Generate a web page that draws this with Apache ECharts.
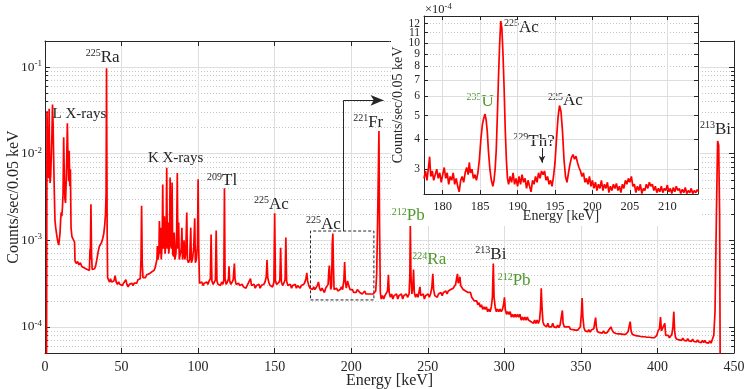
<!DOCTYPE html>
<html>
<head>
<meta charset="utf-8">
<script src="https://cdn.jsdelivr.net/npm/echarts@6/dist/echarts.min.js"></script>
<style>
html, body { margin: 0; padding: 0; background: #fff; }
#chart { width: 748px; height: 389px; }
</style>
</head>
<body>
<div id="chart"></div>
<script>
// spectrum, [energy keV, counts/sec/0.05 keV]
var lowPts = [
  [1.0, 3e-5], [1.3, 0.031], [1.7, 0.011], [2.0, 0.0065], [2.4, 0.0052], [2.7, 0.033],
  [3.0, 0.0085], [3.3, 0.0046], [3.7, 0.0055], [4.1, 0.009], [4.5, 0.016], [4.9, 0.037],
  [5.3, 0.022], [5.7, 0.008], [6.1, 0.0035], [6.5, 0.0017], [7.0, 0.0014], [7.5, 0.0012],
  [8.0, 0.00105], [8.5, 0.00095], [9.0, 0.00088], [9.4, 0.00084], [9.8, 0.0012], [10.2, 0.0017],
  [10.6, 0.0021], [11.0, 0.0019], [11.4, 0.0024], [11.8, 0.0035], [12.2, 0.0155], [12.6, 0.0055],
  [13.0, 0.003], [13.4, 0.0027], [13.8, 0.0045], [14.2, 0.009], [14.6, 0.0224], [15.0, 0.009],
  [15.4, 0.0048], [15.8, 0.0108], [16.2, 0.0042], [16.6, 0.0066], [17.0, 0.0014], [17.6, 0.0011],
  [18.2, 0.00115], [18.8, 0.00105], [19.3, 0.00095], [19.6, 0.00058], [20.4, 0.00054], [21.3, 0.00057],
  [22.2, 0.00052], [23.1, 0.00055], [24.0, 0.0005], [24.9, 0.00052], [25.8, 0.00048], [26.7, 0.0005],
  [27.6, 0.00046], [28.4, 0.00048], [29.0, 0.00045], [29.4, 0.0008], [29.6, 0.0006], [30.0, 0.0026],
  [30.4, 0.0007], [30.8, 0.00046], [31.6, 0.00048], [32.4, 0.00047], [33.2, 0.00052], [34.0, 0.00062],
  [34.8, 0.00075], [35.5, 0.00085], [36.3, 0.0009], [37.0, 0.00095], [37.7, 0.00105], [38.4, 0.0012],
  [39.0, 0.0015], [39.5, 0.002], [39.9, 0.0035], [40.2, 0.097], [40.6, 0.0012], [40.9, 0.00037]
];
var kPts = [
  [41.5, 0.00035], [42.2, 0.00033], [42.8, 0.00036], [43.5, 0.00033], [44.2, 0.00032], [45.0, 0.00034],
  [45.8, 0.00039], [46.5, 0.00033], [47.3, 0.00031], [48.1, 0.00033], [48.9, 0.00031], [49.7, 0.00032],
  [50.5, 0.0003], [51.3, 0.00032], [52.1, 0.00031], [52.8, 0.00035], [53.5, 0.00031], [54.3, 0.00029],
  [55.1, 0.00031], [55.9, 0.0003], [56.7, 0.00032], [57.5, 0.0003], [58.3, 0.00032], [59.1, 0.00033],
  [59.9, 0.00032], [60.7, 0.00035], [61.5, 0.00034], [62.2, 0.00036], [62.7, 0.0006], [63.1, 0.0025],
  [63.5, 0.00055], [64.0, 0.00037], [64.8, 0.00039], [65.6, 0.00037], [66.4, 0.0004], [67.2, 0.00038],
  [68.0, 0.00041], [68.8, 0.0004], [69.6, 0.00043], [70.4, 0.00042], [71.2, 0.00045], [71.9, 0.00048],
  [72.6, 0.0005], [73.1, 0.0006], [73.4, 0.00086], [73.8, 0.0006], [74.4, 0.0007], [74.7, 0.00167],
  [75.1, 0.0007], [75.5, 0.0014], [75.9, 0.0006], [76.5, 0.0009], [76.9, 0.0044], [77.3, 0.0008],
  [77.7, 0.0011], [78.0, 0.0019], [78.4, 0.0007], [79.1, 0.001], [79.5, 0.0069], [79.9, 0.0008],
  [80.4, 0.0016], [80.8, 0.0007], [81.3, 0.0009], [81.7, 0.0053], [82.1, 0.0009], [82.6, 0.0008],
  [83.0, 0.00465], [83.4, 0.0007], [84.0, 0.00065], [84.4, 0.00123], [84.8, 0.0006], [85.5, 0.0007],
  [86.0, 0.0012], [86.4, 0.006], [86.8, 0.0008], [87.3, 0.0016], [87.7, 0.0006], [88.4, 0.0006],
  [89.0, 0.0008], [89.4, 0.0014], [89.8, 0.0006], [90.4, 0.0007], [90.8, 0.001], [91.3, 0.0006],
  [91.9, 0.0007], [92.6, 0.0021], [93.0, 0.0006], [93.7, 0.00055], [94.5, 0.0006], [95.2, 0.0014],
  [95.6, 0.00055], [96.3, 0.0006], [97.1, 0.0008], [97.8, 0.0018], [98.2, 0.00055], [98.9, 0.0006],
  [99.6, 0.0009], [100.0, 0.00506], [100.4, 0.0008], [100.9, 0.00032]
];
var midPts = [
  [101.6, 0.00031], [102.4, 0.00033], [103.2, 0.0003], [104.0, 0.00032], [104.8, 0.00031], [105.6, 0.00033],
  [106.4, 0.00031], [107.2, 0.00034], [108.0, 0.00036], [108.5, 0.00117], [109.0, 0.00034], [109.8, 0.00031],
  [110.6, 0.00033], [111.3, 0.00035], [111.8, 0.0013], [112.3, 0.00034], [113.0, 0.00031], [113.8, 0.00032],
  [114.6, 0.0003], [115.4, 0.00033], [116.2, 0.00031], [116.8, 0.00035], [117.2, 0.004], [117.6, 0.00036],
  [118.3, 0.00031], [119.1, 0.00033], [119.8, 0.00036], [120.2, 0.0005], [120.6, 0.00034], [121.4, 0.00031],
  [122.2, 0.00033], [122.9, 0.00035], [123.7, 0.00054], [124.1, 0.00036], [124.8, 0.00031], [125.6, 0.0003],
  [126.4, 0.00032], [127.2, 0.0003], [128.0, 0.00029], [128.8, 0.00031], [129.6, 0.00029], [130.4, 0.0003],
  [131.2, 0.00028], [132.0, 0.0003], [132.8, 0.00031], [133.5, 0.00034], [134.2, 0.00036], [134.9, 0.0003],
  [135.7, 0.00029], [136.5, 0.00031], [137.3, 0.00028], [138.1, 0.0003], [138.9, 0.00029], [139.7, 0.00031],
  [140.5, 0.00028], [141.3, 0.0003], [142.1, 0.00029], [142.9, 0.00031], [143.7, 0.00033], [144.5, 0.00038],
  [145.0, 0.00059], [145.5, 0.00037], [146.3, 0.00032], [147.1, 0.0003], [147.9, 0.00031], [148.7, 0.00029],
  [149.5, 0.00033], [150.0, 0.00205], [150.5, 0.00034], [151.3, 0.00031], [152.1, 0.0003], [152.9, 0.00033],
  [153.4, 0.00035], [153.9, 0.00082], [154.4, 0.00033], [155.2, 0.0003], [156.0, 0.00032], [156.8, 0.00035],
  [157.3, 0.00108], [157.8, 0.00034], [158.6, 0.0003], [159.4, 0.00029], [160.2, 0.00031], [161.0, 0.00028],
  [161.8, 0.0003], [162.6, 0.00029], [163.4, 0.00031], [164.2, 0.00028], [165.0, 0.0003], [165.8, 0.00029],
  [166.6, 0.00028], [167.4, 0.0003], [168.2, 0.00029], [169.0, 0.00031], [169.8, 0.00033], [170.4, 0.00036],
  [171.0, 0.00042], [171.5, 0.00034], [172.3, 0.0003], [173.1, 0.00028], [173.9, 0.00029], [174.7, 0.00027],
  [175.5, 0.00029], [176.3, 0.00027], [177.1, 0.00028], [177.8, 0.0003], [178.6, 0.00033], [179.3, 0.00028],
  [180.1, 0.00026], [180.9, 0.00028], [181.7, 0.00027], [182.5, 0.00025], [183.3, 0.00028], [184.1, 0.00029],
  [184.9, 0.00031], [185.4, 0.00045], [185.7, 0.00051], [186.1, 0.0004], [186.6, 0.00027], [187.2, 0.0003],
  [187.6, 0.0009], [188.0, 0.0012], [188.4, 0.0005], [188.8, 0.00027], [189.6, 0.00026], [190.4, 0.00028],
  [191.2, 0.00026], [192.0, 0.00025], [192.8, 0.00027], [193.6, 0.00029], [194.4, 0.00027], [195.2, 0.00035],
  [195.7, 0.00056], [196.2, 0.00033], [196.8, 0.00028], [197.6, 0.00034], [198.4, 0.0003], [199.2, 0.00027],
  [200.0, 0.00026], [200.8, 0.00027], [201.6, 0.00025], [202.4, 0.00026], [203.2, 0.00025], [204.0, 0.00027],
  [204.8, 0.00026], [205.6, 0.00025], [206.4, 0.00026], [207.2, 0.00024], [208.0, 0.00025], [208.8, 0.00026],
  [209.6, 0.00024], [210.4, 0.00025], [211.2, 0.00024], [212.0, 0.00025], [212.8, 0.00024], [213.6, 0.00025],
  [214.4, 0.00024], [215.2, 0.00025], [216.0, 0.00026], [216.6, 0.0004], [217.1, 0.0012], [217.6, 0.0045],
  [218.1, 0.0183], [218.5, 0.0015], [219.0, 0.00025], [219.6, 0.00021]
];
var highPts = [
  [220.4, 0.00023], [221.2, 0.00021], [222.0, 0.00023], [222.8, 0.00022], [223.7, 0.00026], [224.3, 0.0004],
  [224.8, 0.00025], [225.6, 0.00022], [226.4, 0.00024], [227.2, 0.00021], [228.0, 0.00023], [228.8, 0.00022],
  [229.6, 0.00024], [230.4, 0.00021], [231.2, 0.00023], [232.0, 0.00022], [232.8, 0.00024], [233.6, 0.00021],
  [234.4, 0.00023], [235.2, 0.00022], [236.0, 0.00024], [236.8, 0.00022], [237.8, 0.00024], [238.3, 0.0004],
  [238.6, 0.0015], [239.0, 0.0004], [239.6, 0.00024], [240.3, 0.00029], [240.7, 0.00046], [241.2, 0.00025],
  [242.0, 0.00022], [242.8, 0.00024], [243.6, 0.00022], [244.4, 0.00026], [244.9, 0.00029], [245.4, 0.00023],
  [246.2, 0.00022], [247.0, 0.00024], [247.8, 0.00021], [248.6, 0.00023], [249.4, 0.00022], [250.2, 0.00024],
  [251.0, 0.00022], [251.8, 0.00024], [252.6, 0.00028], [253.3, 0.00041], [253.8, 0.00027], [254.6, 0.00023],
  [255.4, 0.00024], [256.2, 0.00022], [257.0, 0.00024], [257.8, 0.00023], [258.6, 0.00025], [259.4, 0.00023],
  [260.2, 0.00025], [261.0, 0.00024], [261.8, 0.00026], [262.6, 0.00024], [263.4, 0.00026], [264.2, 0.00025],
  [265.0, 0.00027], [265.8, 0.00026], [266.6, 0.00028], [267.4, 0.00027], [268.2, 0.00031], [268.8, 0.00036],
  [269.4, 0.00041], [269.9, 0.00032], [270.5, 0.00034], [271.0, 0.00038], [271.5, 0.0003], [272.3, 0.00029],
  [273.1, 0.00027], [273.9, 0.00028], [274.7, 0.00026], [275.5, 0.00027], [276.3, 0.00025], [277.1, 0.00024],
  [277.9, 0.00025], [278.7, 0.00022], [279.5, 0.00021], [280.3, 0.0002], [281.1, 0.00019], [281.9, 0.0002],
  [282.7, 0.00018], [283.5, 0.00019], [284.3, 0.00017], [285.1, 0.00018], [285.9, 0.00016], [286.7, 0.00017],
  [287.5, 0.00016], [288.3, 0.00017], [289.1, 0.00015], [289.9, 0.00016], [290.7, 0.00015], [291.5, 0.00017],
  [292.2, 0.00022], [292.8, 0.00054], [293.3, 0.00022], [294.0, 0.00017], [294.8, 0.00015], [295.6, 0.00016],
  [296.4, 0.00015], [297.2, 0.00016], [298.0, 0.00015], [298.8, 0.00016], [299.5, 0.00018], [300.1, 0.00022],
  [300.6, 0.00016], [301.4, 0.00014], [302.2, 0.00015], [303.0, 0.00014], [303.8, 0.00015], [304.6, 0.00013],
  [305.4, 0.00014], [306.2, 0.00013], [307.0, 0.00014], [307.8, 0.00013], [308.6, 0.00014], [309.4, 0.00013],
  [310.2, 0.00014], [311.0, 0.00012], [311.8, 0.00013], [312.6, 0.00012], [313.4, 0.00013], [314.2, 0.00012],
  [315.0, 0.00013], [315.8, 0.00012], [316.6, 0.000125], [317.4, 0.000115], [318.2, 0.00012], [319.0, 0.00011],
  [319.8, 0.00012], [320.6, 0.00011], [321.4, 0.00012], [322.2, 0.00011], [323.0, 0.00012], [323.6, 0.00016],
  [324.1, 0.00028], [324.6, 0.00017], [325.2, 0.000115], [326.0, 0.000105], [326.8, 0.00011], [327.6, 0.0001],
  [328.4, 0.00011], [329.2, 0.0001], [330.0, 0.000105], [330.8, 0.0001], [331.6, 0.00011], [332.4, 0.0001],
  [333.2, 0.000105], [334.0, 0.000098], [334.8, 0.000105], [335.6, 0.000098], [336.4, 0.000105], [337.3, 0.00011],
  [337.9, 0.000155], [338.4, 0.00011], [339.2, 0.0001], [340.0, 0.000097], [340.8, 0.0001], [341.6, 0.000095],
  [342.4, 0.0001], [343.2, 0.000094], [344.0, 0.000099], [344.8, 0.000093], [345.6, 0.000098], [346.4, 0.000092],
  [347.2, 0.000097], [348.0, 0.000092], [348.8, 0.000096], [349.6, 0.0001], [350.3, 0.00014], [350.8, 0.000215],
  [351.3, 0.00013], [352.0, 0.000098], [352.8, 0.00009], [353.6, 0.000094], [354.4, 0.000088], [355.2, 0.000093],
  [356.0, 0.000087], [356.8, 0.000092], [357.6, 0.000088], [358.4, 0.000095], [359.0, 0.0001], [359.6, 0.000128],
  [360.1, 0.0001], [360.8, 0.000088], [361.6, 0.000092], [362.4, 0.000086], [363.2, 0.00009], [364.0, 0.000085],
  [364.8, 0.00009], [365.6, 0.000085], [366.4, 0.000089], [367.2, 0.000086], [368.0, 0.000091], [368.8, 0.000095],
  [369.6, 0.0001], [370.4, 0.000092], [371.2, 0.000087], [372.0, 0.00009], [372.8, 0.000084], [373.6, 0.000088],
  [374.4, 0.000083], [375.2, 0.000087], [376.0, 0.000083], [376.8, 0.000087], [377.6, 0.000082], [378.4, 0.000086],
  [379.2, 0.000082], [380.0, 0.000086], [380.8, 0.000088], [381.6, 0.00009], [382.2, 0.000115], [382.8, 0.00009],
  [383.6, 0.000082], [384.4, 0.000086], [385.2, 0.00008], [386.0, 0.000084], [386.8, 0.000079], [387.6, 0.000083],
  [388.4, 0.000078], [389.2, 0.000082], [390.0, 0.000077], [390.8, 0.000081], [391.6, 0.000077], [392.4, 0.00008],
  [393.2, 0.000076], [394.0, 0.00008], [394.8, 0.000076], [395.6, 0.000079], [396.4, 0.000075], [397.2, 0.000079],
  [398.0, 0.000075], [398.8, 0.000078], [399.6, 0.00008], [400.4, 0.00009], [401.3, 0.000095], [402.0, 0.00013],
  [402.6, 0.00009], [403.6, 0.00009], [404.8, 0.00011], [405.4, 0.00008], [406.2, 0.000076], [407.0, 0.00008],
  [407.8, 0.000075], [408.6, 0.000078], [409.4, 0.000082], [410.1, 0.0001], [410.7, 0.00015], [411.2, 0.00009],
  [411.8, 0.000076], [412.6, 0.000072], [413.4, 0.000075], [414.2, 0.000071], [415.0, 0.000074], [415.8, 0.00007],
  [416.6, 0.000074], [417.4, 0.00007], [418.2, 0.000073], [419.0, 0.000069], [419.8, 0.000073], [420.6, 0.000069],
  [421.4, 0.000072], [422.2, 0.000068], [423.0, 0.000072], [423.8, 0.000068], [424.6, 0.000071], [425.4, 0.000067],
  [426.2, 0.000071], [427.0, 0.000067], [427.8, 0.00007], [428.6, 0.000066], [429.4, 0.00007], [430.2, 0.000066],
  [431.0, 0.00007], [431.8, 0.000066], [432.6, 0.000069], [433.4, 0.000065], [434.2, 0.000069], [435.0, 0.000065],
  [435.8, 0.000068], [436.8, 0.00008], [437.6, 0.00015], [438.6, 0.0025], [439.3, 0.014], [440.0, 0.0125],
  [440.6, 0.002], [441.0, 3e-5]
];
// inset zoom 177.5-214 keV, counts in units of 1e-4
var insetPts = [
  [177.5, 2.75], [177.7, 2.95], [177.9, 2.7], [178.1, 3.05], [178.25, 3.38], [178.4, 2.8], [178.6, 2.95],
  [178.8, 2.7], [179.0, 2.85], [179.2, 3.0], [179.4, 2.75], [179.6, 2.9], [179.8, 2.65], [180.0, 2.85],
  [180.2, 3.05], [180.4, 2.75], [180.6, 2.9], [180.8, 2.6], [181.0, 2.8], [181.2, 2.7], [181.4, 2.9],
  [181.6, 2.6], [181.8, 2.75], [182.0, 2.55], [182.2, 2.42], [182.4, 2.7], [182.6, 2.8], [182.8, 2.65],
  [183.0, 2.9], [183.2, 3.05], [183.4, 2.85], [183.55, 3.2], [183.7, 2.9], [183.9, 3.0], [184.1, 2.75],
  [184.3, 2.85], [184.5, 2.7], [184.7, 2.9], [184.9, 3.3], [185.1, 4.0], [185.3, 4.6], [185.5, 4.9],
  [185.65, 5.07], [185.8, 4.8], [185.95, 4.3], [186.1, 3.6], [186.3, 3.0], [186.5, 2.7], [186.7, 2.55],
  [186.85, 2.7], [187.0, 3.0], [187.15, 3.6], [187.3, 5.0], [187.45, 7.2], [187.6, 9.8], [187.75, 12.3],
  [187.9, 11.5], [188.05, 9.0], [188.2, 6.5], [188.35, 4.4], [188.5, 3.3], [188.65, 2.75], [188.8, 2.6],
  [189.0, 2.8], [189.2, 2.65], [189.4, 2.9], [189.6, 2.6], [189.8, 2.75], [190.0, 2.55], [190.2, 2.8],
  [190.4, 2.6], [190.6, 2.85], [190.8, 2.65], [191.0, 2.75], [191.2, 2.5], [191.4, 2.7], [191.6, 2.55],
  [191.8, 2.42], [192.0, 2.7], [192.2, 2.6], [192.4, 2.8], [192.6, 2.65], [192.8, 2.9], [193.0, 2.75],
  [193.2, 2.95], [193.4, 2.85], [193.6, 2.95], [193.8, 2.7], [194.0, 2.8], [194.2, 2.6], [194.4, 2.7],
  [194.6, 2.55], [194.8, 2.8], [195.0, 3.2], [195.2, 4.0], [195.4, 4.9], [195.6, 5.5], [195.8, 5.2],
  [196.0, 4.3], [196.2, 3.3], [196.4, 2.8], [196.6, 2.65], [196.8, 2.9], [197.0, 3.15], [197.2, 3.35],
  [197.4, 3.45], [197.6, 3.3], [197.8, 3.4], [198.0, 3.2], [198.2, 3.05], [198.4, 2.95], [198.6, 2.8],
  [198.8, 2.9], [199.0, 2.65], [199.2, 2.75], [199.4, 2.6], [199.6, 2.8], [199.8, 2.55], [200.0, 2.7],
  [200.2, 2.5], [200.4, 2.65], [200.6, 2.45], [200.8, 2.6], [201.0, 2.5], [201.2, 2.7], [201.4, 2.45],
  [201.6, 2.6], [201.8, 2.5], [202.0, 2.65], [202.2, 2.4], [202.4, 2.55], [202.6, 2.45], [202.8, 2.6],
  [203.0, 2.5], [203.2, 2.62], [203.4, 2.45], [203.6, 2.55], [203.8, 2.4], [204.0, 2.6], [204.2, 2.5],
  [204.4, 2.7], [204.6, 2.6], [204.8, 2.75], [205.0, 2.65], [205.2, 2.8], [205.4, 2.55], [205.6, 2.6],
  [205.8, 2.4], [206.0, 2.55], [206.2, 2.45], [206.4, 2.6], [206.6, 2.38], [206.8, 2.5], [207.0, 2.45],
  [207.2, 2.6], [207.4, 2.5], [207.6, 2.65], [207.8, 2.55], [208.0, 2.6], [208.2, 2.45], [208.4, 2.55],
  [208.6, 2.4], [208.8, 2.5], [209.0, 2.42], [209.2, 2.55], [209.4, 2.4], [209.6, 2.5], [209.8, 2.45],
  [210.0, 2.58], [210.2, 2.42], [210.4, 2.5], [210.6, 2.38], [210.8, 2.52], [211.0, 2.42], [211.2, 2.55],
  [211.4, 2.45], [211.6, 2.5], [211.8, 2.38], [212.0, 2.48], [212.2, 2.4], [212.4, 2.52], [212.6, 2.38],
  [212.8, 2.45], [213.0, 2.4], [213.2, 2.5], [213.4, 2.38], [213.6, 2.45], [213.8, 2.4], [214.0, 2.47],
  [214.2, 2.42]
];

var mainTicksY = [1e-4, 1e-3, 1e-2, 1e-1];
var insetTicksX = [180, 185, 190, 195, 200, 205, 210];
var insetTicksY = [3, 4, 5, 6, 7, 8, 9, 10, 11, 12];
var insetLabelsOdd = [3, 5, 7, 9, 11];
var insetLabelsEven = [4, 6, 8, 10, 12];
var insetSolidY = [3, 4, 5, 6, 7, 10];
var insetDottedY = [8, 9, 11, 12];

// peak labels: isotope mass, element, where the label sits
var mainLabels = [
  { iso: '225', el: 'Ra', e: 37.7, c: 0.129 },
  { iso: '', el: 'L X-rays', e: 22.5, c: 0.0284 },
  { iso: '', el: 'K X-rays', e: 85.3, c: 0.00885 },
  { iso: '209', el: 'Tl', e: 115.7, c: 0.00484 },
  { iso: '225', el: 'Ac', e: 147.8, c: 0.0026 },
  { iso: '225', el: 'Ac', e: 181.9, c: 0.00153 },
  { iso: '221', el: 'Fr', e: 211.1, c: 0.0232 },
  { iso: '212', el: 'Pb', e: 237.2, c: 0.00191, green: true },
  { iso: '224', el: 'Ra', e: 251.0, c: 0.000594, green: true },
  { iso: '213', el: 'Bi', e: 291.2, c: 0.00069 },
  { iso: '212', el: 'Pb', e: 306.4, c: 0.00034, green: true },
  { iso: '213', el: 'Bi', e: 437.9, c: 0.0191 }
];
var insetLabels = [
  { iso: '235', el: 'U', e: 185.0, c: 5.7, green: true },
  { iso: '225', el: 'Ac', e: 190.5, c: 11.6 },
  { iso: '225', el: 'Ac', e: 196.4, c: 5.75 },
  { iso: '229', el: 'Th?', e: 192.2, c: 3.9 }
];

var FONT = 'Liberation Serif';
var INK = '#262626';
var RED = '#ff0000';
var GREEN = '#4c9a2a';
var MAJOR = '#dedede';
var MINOR = '#c6c6c6';

var minorY = [];
[-5, -4, -3, -2, -1].forEach(function (p) {
  for (var m = 2; m <= 9; m++) {
    var v = m * Math.pow(10, p);
    if (v > 5e-5 && v < 0.2) minorY.push(v);
  }
});

function labelRich(color) {
  return {
    s: { fontFamily: FONT, fontSize: 10, color: color, verticalAlign: 'top', lineHeight: 18 },
    e: { fontFamily: FONT, fontSize: 17, color: color, lineHeight: 18 },
    p: { fontFamily: FONT, fontSize: 15, color: color, lineHeight: 18 }
  };
}
function toMarks(list) {
  return list.map(function (l) {
    var col = l.green ? GREEN : INK;
    var txt = l.iso ? '{s|' + l.iso + '}{e|' + l.el + '}' : '{p|' + l.el + '}';
    return {
      coord: [l.e, l.c],
      symbol: 'rect',
      symbolSize: 1,
      itemStyle: { color: 'rgba(0,0,0,0)' },
      label: { show: true, position: 'inside', formatter: txt, color: col, rich: labelRich(col) }
    };
  });
}

var tickFont = { fontFamily: FONT, fontSize: 14, color: INK };
var nameFont = { fontFamily: FONT, fontSize: 16, color: INK };
var insetName = { fontFamily: FONT, fontSize: 14, color: INK };
var insetTickFont = { fontFamily: FONT, fontSize: 11.5, color: INK };

function powLabel(v) {
  var p = v > 0 ? Math.round(Math.log10(v)) : Math.round(v);
  return '{b|10}{x|' + p + '}';
}

var mainY = { type: 'log', gridIndex: 0, min: 5e-5, max: 0.2, logBase: 10 };
var insetY = { type: 'log', gridIndex: 1, min: 2.37, max: 12.9, logBase: 10, z: 10 };
function ax(base, extra) { return Object.assign({}, base, extra); }

var chart = echarts.init(document.getElementById('chart'));
chart.setOption({
  animation: false,
  backgroundColor: '#fff',
  grid: [
    { left: 45, right: 14, top: 41, bottom: 36, outerBoundsMode: 'none' },
    { left: 424, top: 16, width: 274, height: 178, outerBoundsMode: 'none', z: 10 }
  ],
  xAxis: [
    {
      type: 'value', gridIndex: 0, position: 'bottom', min: 0, max: 450, interval: 50,
      axisLine: { show: true, lineStyle: { color: INK } },
      axisTick: { show: true, inside: true, length: 5, lineStyle: { color: INK } },
      axisLabel: Object.assign({ margin: 7 }, tickFont),
      splitLine: { show: true, lineStyle: { color: MAJOR } },
      name: 'Energy [keV]', nameLocation: 'middle', nameGap: 20, nameTextStyle: nameFont,
      nameMoveOverlap: false
    },
    {
      type: 'value', gridIndex: 0, position: 'top', min: 0, max: 450, interval: 50,
      axisLine: { show: true, lineStyle: { color: INK } },
      axisTick: { show: true, inside: true, length: 5, lineStyle: { color: INK } },
      axisLabel: { show: false }, splitLine: { show: false }
    },
    {
      type: 'value', gridIndex: 1, position: 'bottom', min: 177.5, max: 214.1, z: 10,
      axisLine: { show: true, lineStyle: { color: INK } },
      axisTick: { show: true, inside: true, length: 4, customValues: insetTicksX, lineStyle: { color: INK } },
      axisLabel: { customValues: insetTicksX, margin: 6, fontFamily: FONT, fontSize: 12.5, color: INK },
      splitLine: { show: true, lineStyle: { color: MAJOR } },
      name: 'Energy [keV]', nameLocation: 'middle', nameGap: 15, nameTextStyle: insetName,
      nameMoveOverlap: false
    },
    {
      type: 'value', gridIndex: 1, position: 'top', min: 177.5, max: 214.1, z: 10,
      axisLine: { show: true, lineStyle: { color: INK } },
      axisTick: { show: true, inside: true, length: 4, customValues: insetTicksX, lineStyle: { color: INK } },
      axisLabel: { show: false }, splitLine: { show: false }
    }
  ],
  yAxis: [
    ax(mainY, {
      position: 'left',
      axisLine: { show: true, lineStyle: { color: INK } },
      axisTick: { show: true, inside: true, length: 5, customValues: mainTicksY, lineStyle: { color: INK } },
      axisLabel: {
        customValues: mainTicksY, margin: 3, formatter: powLabel,
        rich: {
          b: { fontFamily: FONT, fontSize: 13.5, color: INK, lineHeight: 16 },
          x: { fontFamily: FONT, fontSize: 9, color: INK, verticalAlign: 'top', lineHeight: 16 }
        }
      },
      splitLine: { show: true, lineStyle: { color: MAJOR } },
      name: 'Counts/sec/0.05 keV', nameLocation: 'middle', nameGap: 23, nameTextStyle: nameFont,
      nameMoveOverlap: false
    }),
    ax(mainY, {
      position: 'left',
      axisLine: { show: false },
      axisTick: { show: true, inside: true, length: 3, customValues: minorY, lineStyle: { color: INK } },
      axisLabel: { show: false },
      splitLine: { show: true, lineStyle: { color: MINOR, type: [1, 2] } }
    }),
    ax(mainY, {
      position: 'right',
      axisLine: { show: true, lineStyle: { color: INK } },
      axisTick: { show: true, inside: true, length: 5, customValues: mainTicksY, lineStyle: { color: INK } },
      axisLabel: { show: false }, splitLine: { show: false }
    }),
    ax(mainY, {
      position: 'right',
      axisLine: { show: false },
      axisTick: { show: true, inside: true, length: 3, customValues: minorY, lineStyle: { color: INK } },
      axisLabel: { show: false }, splitLine: { show: false }
    }),
    // inset: ticks + odd labels
    ax(insetY, {
      position: 'left',
      axisLine: { show: true, lineStyle: { color: INK } },
      axisTick: { show: true, inside: true, length: 4, customValues: insetTicksY, lineStyle: { color: INK } },
      axisLabel: Object.assign({ customValues: insetLabelsOdd, margin: 4 }, insetTickFont),
      splitLine: { show: false },
      name: 'Counts/sec/0.05 keV', nameLocation: 'middle', nameGap: 19, nameTextStyle: insetName,
      nameMoveOverlap: false
    }),
    // inset: even labels + solid grid
    ax(insetY, {
      position: 'left',
      axisLine: { show: false },
      axisTick: { show: false, customValues: insetSolidY },
      axisLabel: Object.assign({ customValues: insetLabelsEven, margin: 4 }, insetTickFont),
      splitLine: { show: true, lineStyle: { color: MAJOR } }
    }),
    ax(insetY, {
      position: 'left',
      axisLine: { show: false },
      axisTick: { show: false, customValues: insetDottedY },
      axisLabel: { show: false },
      splitLine: { show: true, lineStyle: { color: MINOR, type: [1, 2] } }
    }),
    ax(insetY, {
      position: 'right',
      axisLine: { show: true, lineStyle: { color: INK } },
      axisTick: { show: true, inside: true, length: 4, customValues: insetTicksY, lineStyle: { color: INK } },
      axisLabel: { show: false }, splitLine: { show: false }
    })
  ],
  graphic: [
    { type: 'rect', z: 5, shape: { x: 391, y: 0, width: 309, height: 226 }, style: { fill: '#fff' } },
    {
      type: 'text', z: 12, x: 425, y: 2,
      style: {
        text: '{a|\u00d710}{b|-4}',
        rich: {
          a: { fontFamily: FONT, fontSize: 12.5, fill: INK, lineHeight: 14, verticalAlign: 'bottom' },
          b: { fontFamily: FONT, fontSize: 8.5, fill: INK, lineHeight: 14, verticalAlign: 'top' }
        }
      }
    }
  ],
  series: [
    {
      type: 'line', xAxisIndex: 0, yAxisIndex: 0, z: 2,
      data: lowPts.concat(kPts, midPts, highPts),
      symbol: 'none', clip: true,
      lineStyle: { color: RED, width: 1.7 }, itemStyle: { color: RED },
      markPoint: { silent: true, data: toMarks(mainLabels) },
      markArea: {
        silent: true,
        itemStyle: { color: 'rgba(0,0,0,0)', borderColor: INK, borderWidth: 1, borderType: [3, 2] },
        label: { show: false },
        data: [[{ coord: [173.4, 2.05e-4] }, { coord: [214.8, 1.28e-3] }]]
      },
      markLine: {
        silent: true, symbol: ['none', 'none'],
        label: { show: false },
        lineStyle: { color: INK, width: 1, type: 'solid' },
        data: [
          [{ coord: [195.0, 1.28e-3] }, { coord: [195.0, 0.0413] }],
          [{ coord: [195.0, 0.0413] }, { coord: [221.1, 0.0413], symbol: 'arrow', symbolSize: [8, 13] }]
        ]
      }
    },
    {
      type: 'line', xAxisIndex: 2, yAxisIndex: 4, z: 11,
      data: insetPts,
      symbol: 'none', clip: true,
      lineStyle: { color: RED, width: 1.7 }, itemStyle: { color: RED },
      markPoint: { silent: true, data: toMarks(insetLabels) },
      markLine: {
        silent: true, symbol: ['none', 'none'],
        label: { show: false },
        lineStyle: { color: INK, width: 1, type: 'solid' },
        data: [
          [{ coord: [193.26, 3.67] }, { coord: [193.26, 3.19], symbol: 'arrow', symbolSize: [5, 7] }]
        ]
      }
    }
  ]
});
</script>
</body>
</html>
